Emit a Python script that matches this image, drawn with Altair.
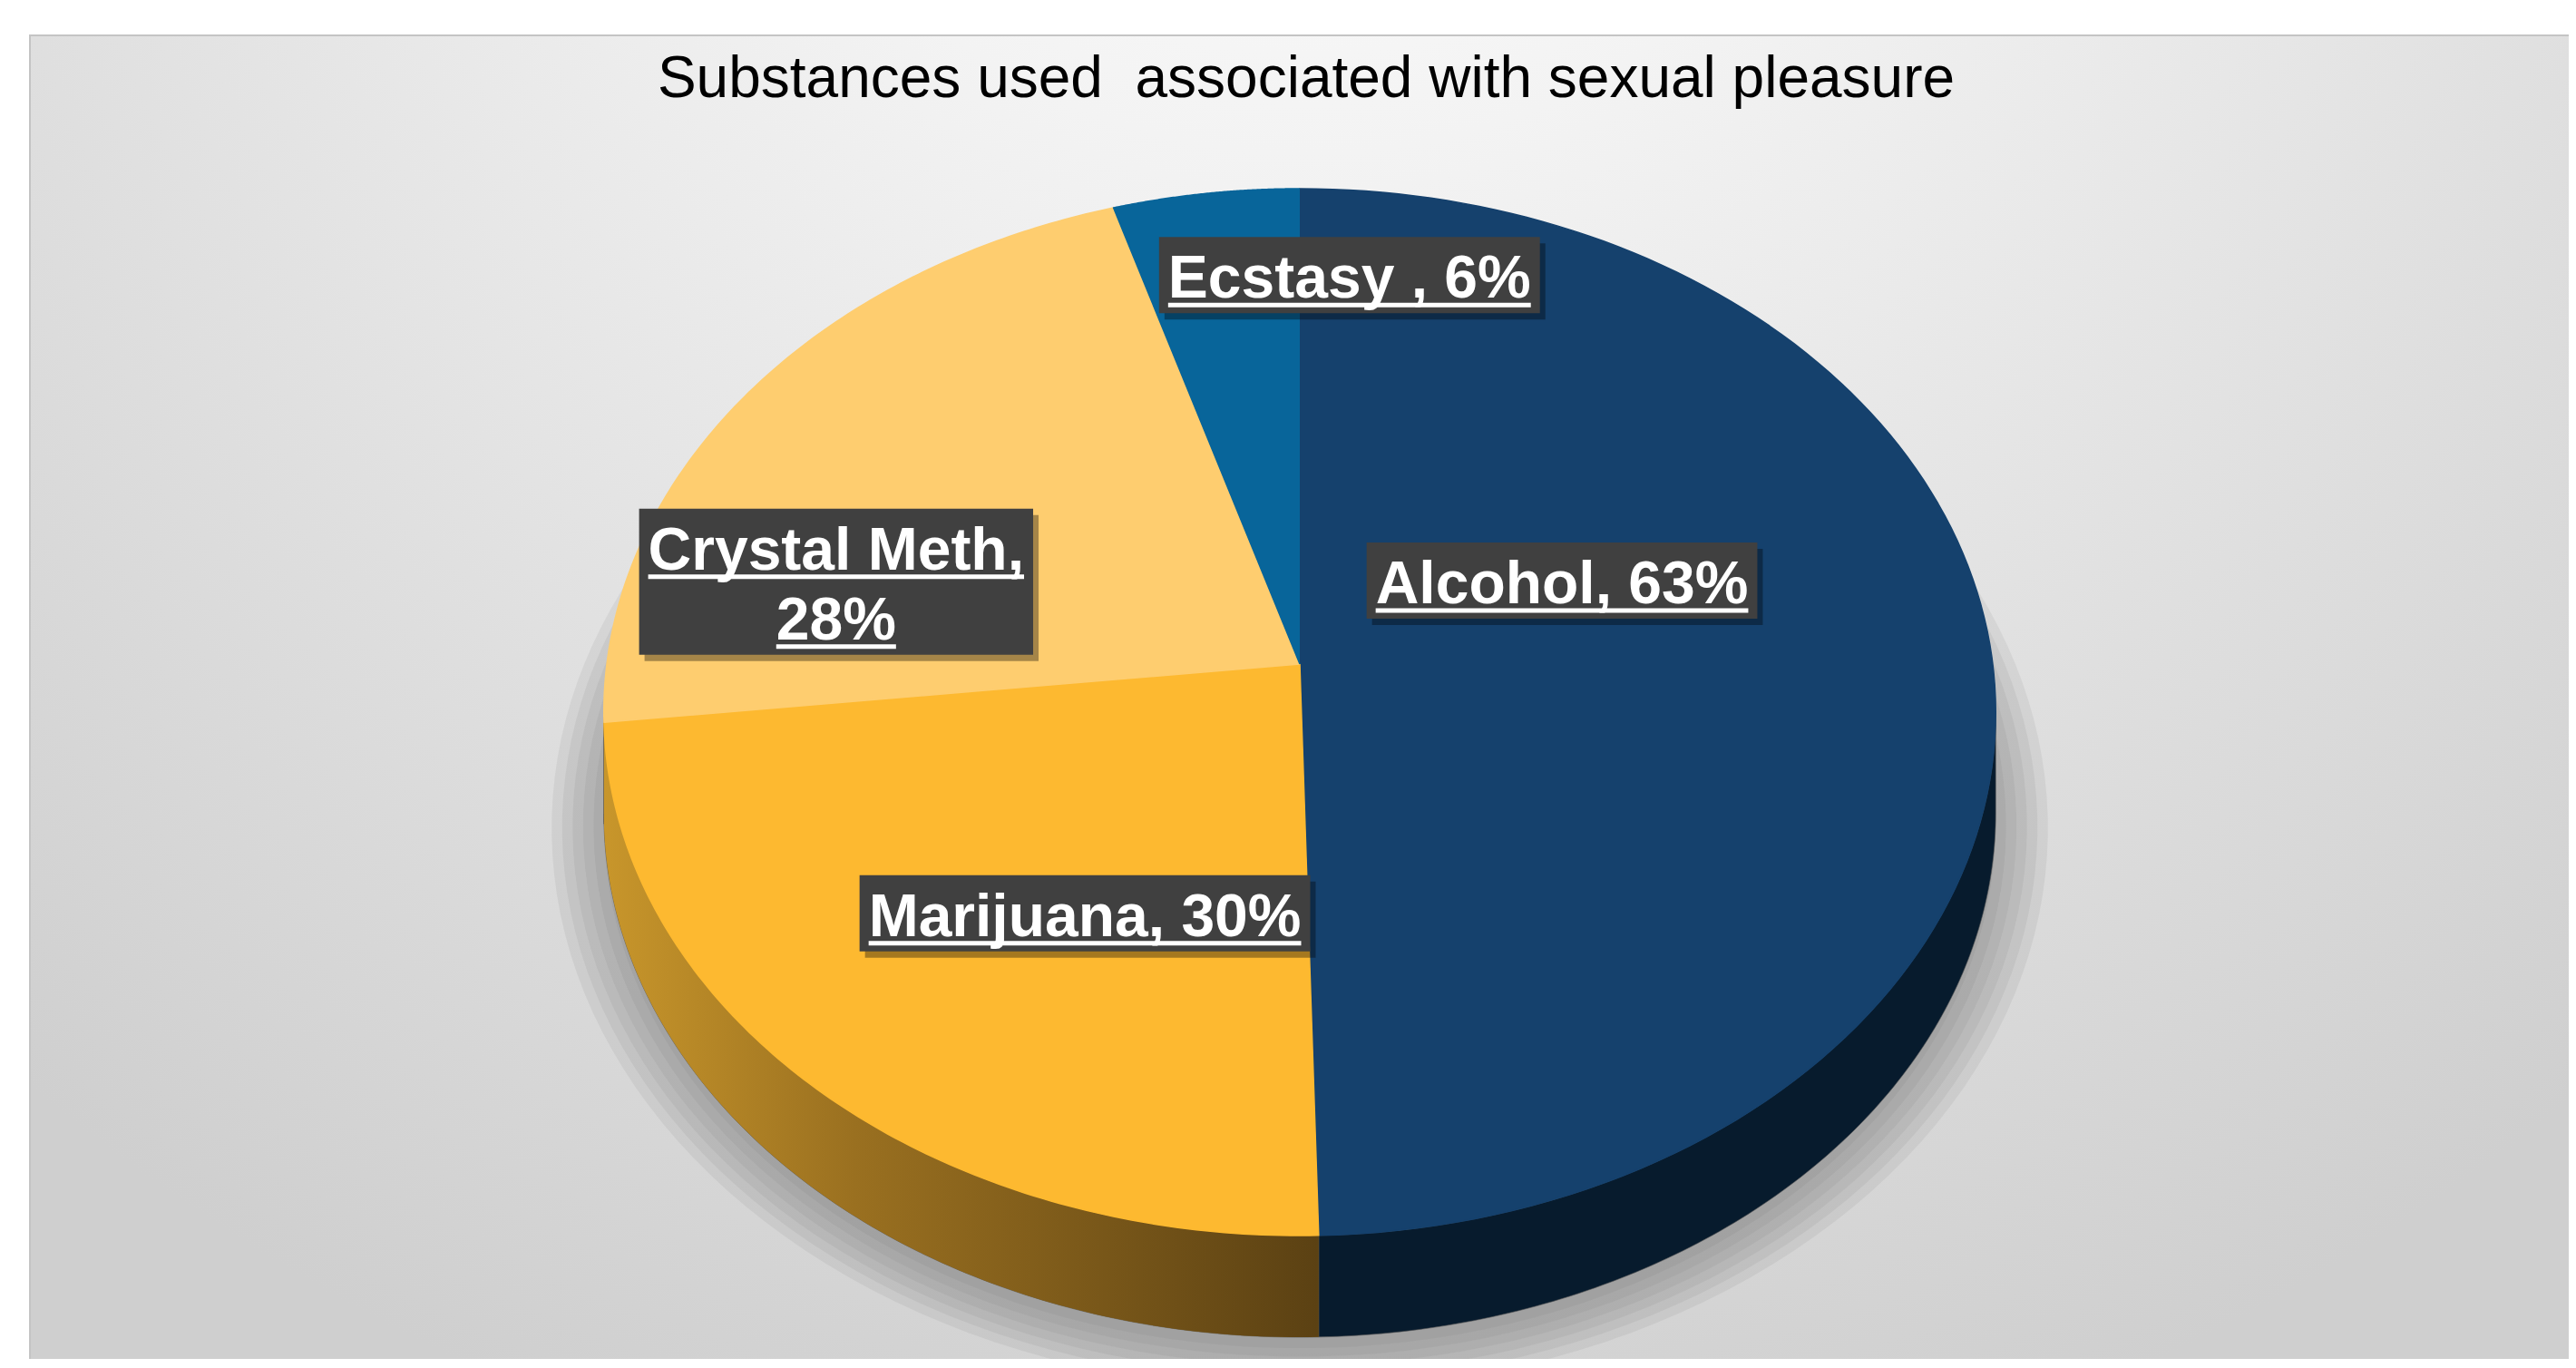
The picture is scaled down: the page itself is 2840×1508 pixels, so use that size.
import altair as alt
import pandas as pd

# ---------------- data ----------------
categories = ["Alcohol", "Marijuana", "Crystal Meth", "Ecstasy"]
values = [63, 30, 28, 6]
label_lines = [["Alcohol, 63%"], ["Marijuana, 30%"], ["Crystal Meth,", "28%"], ["Ecstasy , 6%"]]
title_text = "Substances used \u00a0associated with sexual pleasure"

# ---------------- styles ----------------
top_colors = ["#15416D", "#FDB930", "#FECD6F", "#08659A"]
side_colors = ["#071B2D", "#8A6418", "#C89A3C", "#053A58"]
# label anchors in unit-disk coordinates of the pie plane (u: right, v: toward viewer)
label_u = [0.384, -0.297, -0.679, 0.077]
label_v = [-0.163, 0.460, -0.161, -0.805]
shadow_levels = [1.0, 1.015, 1.03, 1.045, 1.06, 1.075]

FONT = "Liberation Sans"
LABEL_SIZE = 66
LINE_H = 77
PAD = 10

# perspective pie geometry (pixel units of the page)
CX, CY, A, G, RX, DEPTH = 1433, 732, 504.9, -0.0919, 764, 112
N = 120
W, H = 2824, 1490

AW = {"A": 722, "l": 278, "c": 556, "o": 611, "h": 611, ",": 278, " ": 278, "6": 556, "3": 556,
      "%": 889, "M": 833, "a": 556, "r": 389, "i": 278, "j": 278, "u": 611, "n": 611, "C": 722,
      "y": 556, "s": 556, "t": 333, "e": 556, "E": 667, "2": 556, "8": 556, "0": 556}


def text_w(s, size):
    return sum(AW.get(ch, 556) for ch in s) * size / 1000


df = pd.DataFrame({"cat": categories, "value": values, "idx": list(range(len(categories)))})

rows, boxes = [], []
for cat, lines, u, v in zip(categories, label_lines, label_u, label_v):
    n = len(lines)
    widths = [text_w(l, LABEL_SIZE) for l in lines]
    boxes.append({"cat": cat, "u": u, "v": v, "bw": max(widths) + 2 * PAD, "bh": 84 + (n - 1) * LINE_H})
    for j, (l, w) in enumerate(zip(lines, widths)):
        rows.append({"cat": cat, "line": l, "u": u, "v": v, "w": w, "off": (j - (n - 1) / 2) * LINE_H})
lines_df = pd.DataFrame(rows)
boxes_df = pd.DataFrame(boxes)

xs = alt.Scale(domain=[8, 8 + W], nice=False, zero=False)
ys = alt.Scale(domain=[8, 8 + H], nice=False, zero=False, reverse=True)

proj_x = f"({CX} + {RX}*sin(datum.t)/(1 + ({G})*(-cos(datum.t))))"
proj_y = f"((({A})*(-cos(datum.t)) + {CY})/(1 + ({G})*(-cos(datum.t))))"
lab_x = f"({CX} + {RX}*datum.u/(1 + ({G})*datum.v))"
lab_y = f"((({A})*datum.v + {CY})/(1 + ({G})*datum.v))"

base = alt.Chart(df).transform_joinaggregate(
    total="sum(value)"
).transform_window(
    cum="sum(value)", sort=[alt.SortField("idx")], frame=[None, 0]
).transform_calculate(
    a0="2*PI*(datum.cum - datum.value)/datum.total",
    a1="2*PI*datum.cum/datum.total",
)

top_scale = alt.Scale(domain=categories, range=top_colors)
side_scale = alt.Scale(domain=categories, range=side_colors)

# top faces (filled polygons: apex + arc)
top = base.transform_calculate(
    k=f"sequence(-1, {N + 1})"
).transform_flatten(["k"]).transform_calculate(
    t=f"datum.a0 + (datum.a1 - datum.a0)*datum.k/{N}"
).transform_calculate(
    px=f"datum.k < 0 ? {CX} : {proj_x}",
    py=f"datum.k < 0 ? {CY} : {proj_y}",
).mark_line(strokeWidth=1.5, strokeJoin="round").encode(
    x=alt.X("px:Q", scale=xs, axis=None),
    y=alt.Y("py:Q", scale=ys, axis=None),
    order=alt.Order("k:Q"),
    fill=alt.Fill("cat:N", scale=top_scale, legend=None),
    stroke=alt.Stroke("cat:N", scale=top_scale, legend=None),
)

# visible front side wall
side_base = base.transform_calculate(
    s0=f"max(datum.a0, acos({G}))",
    s1=f"min(datum.a1, 2*PI - acos({G}))",
).transform_filter("datum.s1 > datum.s0").transform_calculate(
    k=f"sequence(0, {N + 1})"
).transform_flatten(["k"]).transform_calculate(
    t=f"datum.s0 + (datum.s1 - datum.s0)*datum.k/{N}"
).transform_calculate(
    px=proj_x, py=proj_y, py2=f"{proj_y} + {DEPTH}"
)

side = side_base.mark_area(orient="vertical", stroke="#555555", strokeWidth=0.6).encode(
    x=alt.X("px:Q", scale=xs, axis=None),
    y=alt.Y("py:Q", scale=ys, axis=None),
    y2="py2:Q",
    color=alt.Color("cat:N", scale=side_scale, legend=None),
    detail="cat:N",
)

mj_grad = alt.Gradient(
    gradient="linear", x1=0, y1=0, x2=1, y2=0,
    stops=[alt.GradientStop(color="#C8962B", offset=0),
           alt.GradientStop(color="#9A7020", offset=0.35),
           alt.GradientStop(color="#5B4113", offset=1)],
)
side_mj = side_base.transform_filter("datum.cat == 'Marijuana'").mark_area(
    orient="vertical", fill=mj_grad
).encode(
    x=alt.X("px:Q", scale=xs, axis=None),
    y=alt.Y("py:Q", scale=ys, axis=None),
    y2="py2:Q",
)

# background panel
bg = alt.Chart(pd.DataFrame({"a": [0]})).mark_rect(
    fill=alt.RadialGradient(
        gradient="radial", x1=0.5, y1=0.05, r1=0, x2=0.5, y2=0.05, r2=0.78,
        stops=[alt.GradientStop(color="#FFFFFF", offset=0),
               alt.GradientStop(color="#F3F3F3", offset=0.3),
               alt.GradientStop(color="#DEDEDE", offset=0.7),
               alt.GradientStop(color="#CFCFCF", offset=1)],
    ),
    stroke="#C4C4C4", strokeWidth=2,
).encode(x=alt.value(25), x2=alt.value(W + 20), y=alt.value(31), y2=alt.value(H + 20))

# soft shadow: stacked, slightly enlarged copies of the pie footprint
shadow = alt.Chart(pd.DataFrame({"s": shadow_levels})).transform_calculate(
    k="sequence(0, 181)"
).transform_flatten(["k"]).transform_calculate(
    t="2*PI*datum.k/180"
).transform_calculate(
    px=f"{CX} + datum.s*({proj_x} - {CX})",
    py=f"{CY} + {DEPTH} + datum.s*({proj_y} - {CY}) + 12",
).mark_line(fill="#6E6E6E", fillOpacity=0.1, strokeWidth=0).encode(
    x=alt.X("px:Q", scale=xs, axis=None),
    y=alt.Y("py:Q", scale=ys, axis=None),
    order=alt.Order("k:Q"),
    detail="s:N",
)

# label boxes
box_src = alt.Chart(boxes_df).transform_calculate(
    lx=lab_x, ly=lab_y
).transform_calculate(
    bx="datum.lx - datum.bw/2", bx2="datum.lx + datum.bw/2",
    by="datum.ly - datum.bh/2", by2="datum.ly + datum.bh/2",
    sx="datum.lx - datum.bw/2 + 6", sx2="datum.lx + datum.bw/2 + 6",
    sy="datum.ly - datum.bh/2 + 7", sy2="datum.ly + datum.bh/2 + 7",
)
box_shadow = box_src.mark_rect(color="#000000", opacity=0.35).encode(
    x=alt.X("sx:Q", scale=xs, axis=None), x2="sx2:Q",
    y=alt.Y("sy:Q", scale=ys, axis=None), y2="sy2:Q",
)
box = box_src.mark_rect(color="#404040").encode(
    x=alt.X("bx:Q", scale=xs, axis=None), x2="bx2:Q",
    y=alt.Y("by:Q", scale=ys, axis=None), y2="by2:Q",
)

line_src = alt.Chart(lines_df).transform_calculate(
    lx=lab_x, ly=lab_y
).transform_calculate(
    ty="datum.ly + datum.off + 25",
    uy="datum.ly + datum.off + 33",
    ux="datum.lx - datum.w/2",
    ux2="datum.lx + datum.w/2",
)
texts = line_src.mark_text(
    font=FONT, fontSize=LABEL_SIZE, fontWeight="bold", color="#FFFFFF",
    align="center", baseline="alphabetic",
).encode(
    x=alt.X("lx:Q", scale=xs, axis=None),
    y=alt.Y("ty:Q", scale=ys, axis=None),
    text="line:N",
)
underline = line_src.mark_rule(color="#FFFFFF", strokeWidth=5).encode(
    x=alt.X("ux:Q", scale=xs, axis=None), x2="ux2:Q",
    y=alt.Y("uy:Q", scale=ys, axis=None),
)

title = alt.Chart(pd.DataFrame({"t": [title_text]})).mark_text(
    font=FONT, fontSize=64, color="#000000", align="center", baseline="alphabetic",
).encode(x=alt.value(1440 - 8), y=alt.value(107 - 8), text="t:N")

chart = alt.layer(
    bg, shadow, side, side_mj, top, box_shadow, box, texts, underline, title
).properties(
    width=W, height=H, padding=0,
    autosize=alt.AutoSizeParams(type="none"),
    background="#FFFFFF",
).configure_view(stroke=None)

chart.save("out.html", embed_options={"renderer": "svg", "actions": False})
